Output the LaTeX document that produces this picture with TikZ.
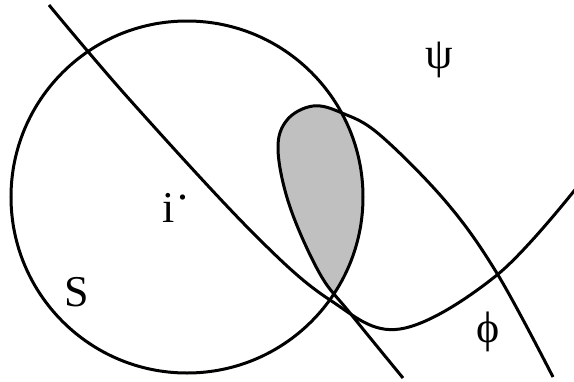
\documentclass[tikz,border=0pt]{standalone}
\usepackage{fontspec}
\setmainfont{Liberation Serif}
\definecolor{shadegray}{RGB}{192,192,192}
\tikzset{
  curve/.style={line width=3pt, line join=round},
  lbl/.style={font=\fontsize{44}{48}\selectfont, inner sep=0pt}
}
\begin{document}
\begin{tikzpicture}[x=1pt,y=-1pt]
\useasboundingbox (0,0) rectangle (574,381);
\clip (0,0) rectangle (574,381);
% shaded region
\begin{scope}
  \clip (187,197) circle[radius=176];
  \fill[shadegray] plot[smooth, tension=0.6] coordinates {(553,377) (498,275) (447,203) (380,135) (342,113) (313,106) (287,120) (278,150) (290,207) (320,274) (350,313) (403,378)} -- cycle;
\end{scope}
% circle S
\node[draw, circle, line width=3pt, minimum size=352pt, inner sep=0pt] (circ) at (187,197) {};
% curve 1
\draw[curve] plot[smooth, tension=0.6] coordinates {(49,5) (130,100) (253,233) (330,300) (400,329) (497,275) (578,186)};
% curve 2
\draw[curve] plot[smooth, tension=0.6] coordinates {(553,377) (498,275) (447,203) (380,135) (342,113) (313,106) (287,120) (278,150) (290,207) (320,274) (350,313) (403,378)};
% labels
\node[lbl] (psi) at (439,60) {ψ};
\node[lbl] (S) at (77,292) {S};
\node[lbl, anchor=base] (i) at (169,222) {i};
\node[lbl, anchor=base west] (idot) at (177,199) {.};
\node[lbl] (phi) at (488,332) {ϕ};
\end{tikzpicture}
\end{document}
